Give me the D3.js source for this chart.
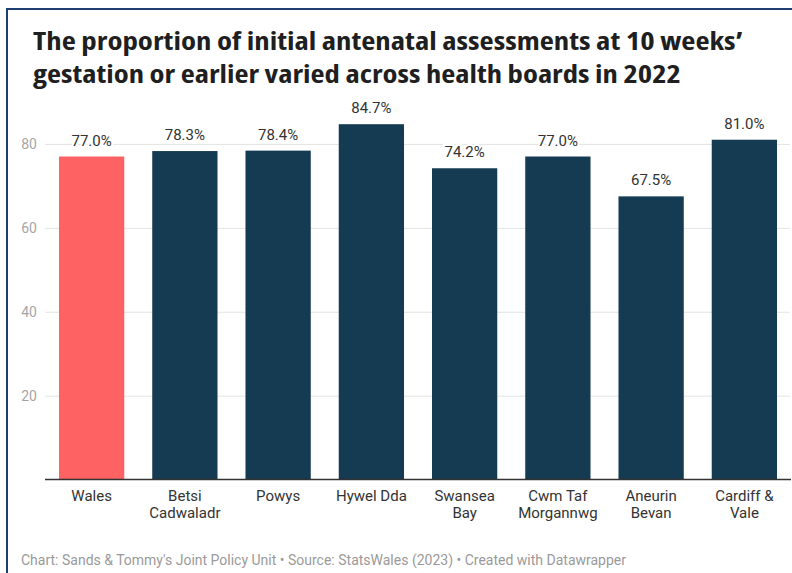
<!DOCTYPE html>
<html>
<head>
<meta charset="utf-8">
<script src="https://cdn.jsdelivr.net/npm/d3@7"></script>
<style>
  html, body { margin: 0; padding: 0; background: #fff; }
  svg { display: block; }
</style>
</head>
<body>
<svg id="chart" width="792" height="573"></svg>
<script>
// Health boards (first entry is the all-Wales figure)
const categories = ["Wales", "Betsi Cadwaladr", "Powys", "Hywel Dda", "Swansea Bay",
                    "Cwm Taf Morgannwg", "Aneurin Bevan", "Cardiff & Vale"];
// Axis label lines for each category
const categoryLines = [["Wales"], ["Betsi", "Cadwaladr"], ["Powys"], ["Hywel Dda"],
                       ["Swansea", "Bay"], ["Cwm Taf", "Morgannwg"], ["Aneurin", "Bevan"],
                       ["Cardiff &", "Vale"]];
// Percentage of initial assessments at 10 weeks' gestation or earlier
const values = [77.0, 78.3, 78.4, 84.7, 74.2, 77.0, 67.5, 81.0];
const yTicks = [20, 40, 60, 80];

const titleLines = ["The proportion of initial antenatal assessments at 10 weeks\u2019",
                    "gestation or earlier varied across health boards in 2022"];
const footer = "Chart: Sands & Tommy's Joint Policy Unit \u2022 Source: StatsWales (2023) \u2022 Created with Datawrapper";

const svg = d3.select("#chart");

// Frame lines (top and left)
svg.append("rect").attr("x", 6).attr("y", 8).attr("width", 786).attr("height", 2).attr("fill", "#1e3d70");
svg.append("rect").attr("x", 6).attr("y", 8).attr("width", 2).attr("height", 565).attr("fill", "#1e3d70");

// Title
const titleWidths = [710, 648];
svg.append("g").selectAll("text").data(titleLines).join("text")
  .attr("x", 33)
  .attr("y", (d, i) => 50 + i * 33)
  .attr("font-family", "'Open Sans', sans-serif")
  .attr("font-weight", 700)
  .attr("font-size", 24.5)
  .style("font-stretch", "87.5%")
  .attr("fill", "#1f1f1f")
  .attr("textLength", (d, i) => titleWidths[i])
  .attr("lengthAdjust", "spacingAndGlyphs")
  .text(d => d);

const x = d3.scaleBand().domain(categories).range([45, 791]).paddingInner(0.3).paddingOuter(0.15);
const y = d3.scaleLinear().domain([0, 100]).range([479.6, 60]);

// Gridlines
const grid = svg.append("g").attr("transform", "translate(45,0)")
  .call(d3.axisLeft(y).tickValues(yTicks).tickSize(-745).tickFormat(""));
grid.select(".domain").remove();
grid.selectAll(".tick line").attr("stroke", "#e3e3e3").attr("stroke-width", 1);

// Y tick labels
svg.append("g").selectAll("text").data(yTicks).join("text")
  .attr("x", 37)
  .attr("y", d => y(d))
  .attr("dy", "0.35em")
  .attr("text-anchor", "end")
  .attr("font-family", "Roboto, sans-serif")
  .attr("font-size", 14)
  .attr("fill", "#a6a6a6")
  .text(d => d);

// Bars
svg.append("g").selectAll("rect").data(values).join("rect")
  .attr("x", (d, i) => x(categories[i]))
  .attr("width", x.bandwidth())
  .attr("y", d => y(d))
  .attr("height", d => y(0) - y(d))
  .attr("fill", (d, i) => i === 0 ? "#fe6262" : "#153b52");

// Baseline
svg.append("line")
  .attr("x1", 45).attr("x2", 791)
  .attr("y1", y(0)).attr("y2", y(0))
  .attr("stroke", "#333").attr("stroke-width", 1.5);

// Value labels
const fmt = d3.format(".1f");
svg.append("g").selectAll("text").data(values).join("text")
  .attr("x", (d, i) => x(categories[i]) + x.bandwidth() / 2)
  .attr("y", d => y(d) - 11)
  .attr("text-anchor", "middle")
  .attr("font-family", "Roboto, sans-serif")
  .attr("font-size", 15)
  .attr("fill", "#333")
  .attr("stroke", "#fff")
  .attr("stroke-width", 4)
  .attr("paint-order", "stroke")
  .text(d => fmt(d) + "%");

// Category labels
const catG = svg.append("g").selectAll("text").data(categoryLines).join("text")
  .attr("text-anchor", "middle")
  .attr("font-family", "Roboto, sans-serif")
  .attr("font-size", 15)
  .attr("fill", "#333")
  .attr("transform", (d, i) => `translate(${x(categories[i]) + x.bandwidth() / 2},${y(0) + 21})`);
catG.selectAll("tspan").data(d => d).join("tspan")
  .attr("x", 0)
  .attr("y", (d, j) => j * 17.5)
  .text(d => d);

// Footer
svg.append("text")
  .attr("x", 21)
  .attr("y", 565)
  .attr("font-family", "Roboto, sans-serif")
  .attr("font-size", 14)
  .attr("fill", "#9a9a9a")
  .text(footer);
</script>
</body>
</html>
